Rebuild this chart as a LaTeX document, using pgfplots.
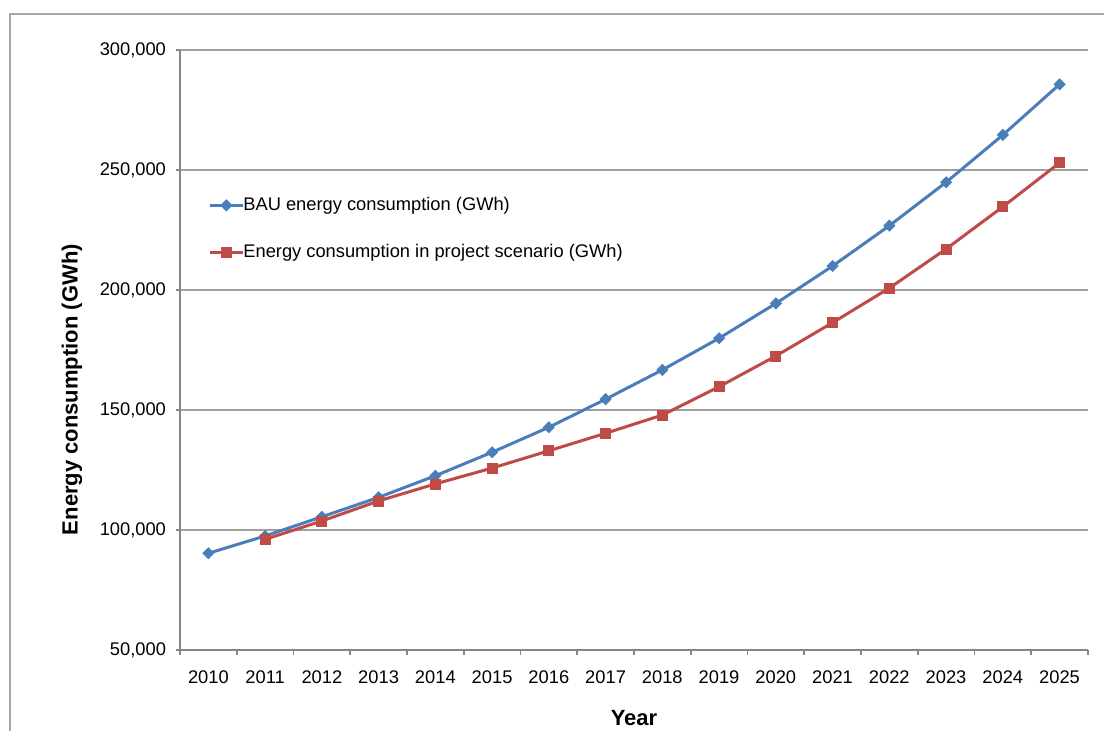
\documentclass[border=0pt]{standalone}
\usepackage{fontspec}
\setmainfont{Liberation Sans}
\usepackage{pgfplots}
\pgfplotsset{compat=1.18}
\definecolor{bau}{HTML}{4A7EBB}
\definecolor{proj}{HTML}{BE4B48}
\definecolor{axisgray}{HTML}{868686}
\definecolor{gridgray}{HTML}{A0A0A0}
\definecolor{bordergray}{HTML}{A6A6A6}
\begin{document}
\begin{tikzpicture}
\path[use as bounding box] (0,0) rectangle (552pt,365.5pt);
\draw[bordergray, line width=0.6pt] (5pt,0pt) -- (5pt,358.5pt) -- (552pt,358.5pt);
\begin{axis}[
  at={(90pt,40.5pt)}, anchor=south west,
  width=454pt, height=300pt, scale only axis,
  xmin=2009.5, xmax=2025.5,
  ymin=50000, ymax=300000,
  axis lines*=left,
  axis line style={axisgray, line width=0.9pt},
  xtick={2010,...,2025},
  xticklabels={2010,2011,2012,2013,2014,2015,2016,2017,2018,2019,2020,2021,2022,2023,2024,2025},
  minor xtick={2009.5,2010.5,...,2025.5},
  major x tick style={draw=none},
  minor x tick style={axisgray, line width=0.8pt},
  minor tick length=2.5pt,
  ytick={50000,100000,...,300000},
  major y tick style={axisgray, line width=0.8pt},
  major tick length=2pt,
  tick align=outside,
  ymajorgrids,
  grid style={gridgray, line width=0.6pt},
  scaled y ticks=false,
  yticklabel style={/pgf/number format/fixed, /pgf/number format/1000 sep={,}, /pgf/number format/assume math mode=true},
  ticklabel style={font=\fontsize{9.15}{11}\selectfont, text=black},
  xticklabel style={yshift=-5pt},
  yticklabel style={xshift=-1.5pt},
  xlabel={\textbf{Year}},
  ylabel={\textbf{Energy consumption (GWh)}},
  label style={font=\fontsize{11}{13}\selectfont},
  xlabel style={at={(axis description cs:0.5,-0.113)}, anchor=center},
  ylabel style={at={(axis description cs:-0.119,0.434)}, anchor=center},
  legend style={at={(axis description cs:0.0308,0.762)}, anchor=north west,
    draw=none, fill=none, font=\fontsize{9.15}{11}\selectfont,
    row sep=11.35pt, inner sep=0pt, cells={anchor=west},
    /tikz/every odd column/.append style={column sep=-2.5pt}},
  legend image code/.code={\draw[mark repeat=2,mark phase=2] plot coordinates {(0pt,0pt) (8.25pt,0pt) (16.5pt,0pt)};},
  clip=false,
]
\addplot[bau, line width=1.5pt, mark=square*, mark size=1.95pt,
  mark options={solid, rotate=45, fill=bau, draw=bau, line width=0.4pt}]
  coordinates {
  (2010,90300) (2011,97500) (2012,105500) (2013,113600) (2014,122600)
  (2015,132400) (2016,142800) (2017,154500) (2018,166700) (2019,179900)
  (2020,194400) (2021,210000) (2022,226800) (2023,244900) (2024,264600)
  (2025,285700)};
\addlegendentry{BAU energy consumption (GWh)}
\addplot[proj, line width=1.5pt, mark=square*, mark size=2.5pt,
  mark options={solid, fill=proj, draw=proj, line width=0.4pt}]
  coordinates {
  (2011,96100) (2012,103750) (2013,112100) (2014,119200) (2015,125800)
  (2016,133000) (2017,140300) (2018,147900) (2019,159700) (2020,172500)
  (2021,186400) (2022,200800) (2023,217100) (2024,234700) (2025,253000)};
\addlegendentry{Energy consumption in project scenario (GWh)}
\end{axis}
\end{tikzpicture}
\end{document}
